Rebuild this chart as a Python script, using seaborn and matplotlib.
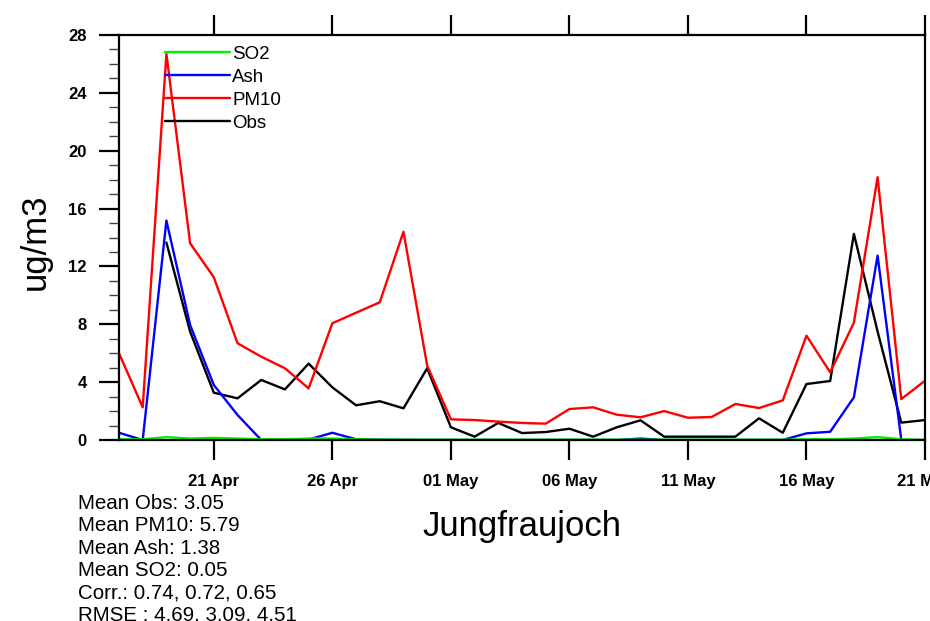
import numpy as np
import pandas as pd
import matplotlib
matplotlib.use("Agg")
import matplotlib.pyplot as plt
import matplotlib.dates as mdates
from matplotlib.ticker import MultipleLocator
from matplotlib.lines import Line2D
import seaborn as sns

# Daily series, 17 Apr - 21 May 2010
dates = pd.date_range("2010-04-17", "2010-05-21", freq="D")
nan = np.nan
obs = [nan, nan, 13.65, 7.49, 3.27, 2.88, 4.15, 3.50, 5.28, 3.64, 2.40, 2.68,
       2.19, 4.96, 0.88, 0.23, 1.18, 0.48, 0.55, 0.78, 0.23, 0.88, 1.36, 0.23,
       0.23, 0.23, 0.23, 1.50, 0.50, 3.87, 4.08, 14.25, 7.50, 1.20, 1.38]
pm10 = [6.00, 2.26, 26.70, 13.60, 11.25, 6.69, 5.76, 4.96, 3.57, 8.07, 8.80,
        9.52, 14.40, 5.14, 1.43, 1.38, 1.27, 1.18, 1.13, 2.14, 2.26, 1.75, 1.57,
        2.00, 1.54, 1.59, 2.49, 2.21, 2.74, 7.21, 4.68, 8.11, 18.17, 2.83, 4.10]
ash = [0.50, 0.00, 15.17, 7.95, 3.80, 1.73, 0.00, 0.03, 0.03, 0.50, 0.05, 0.02,
       0.01, 0.00, 0.00, 0.00, 0.00, 0.00, 0.00, 0.00, 0.00, 0.00, 0.10, 0.00,
       0.00, 0.00, 0.00, 0.00, 0.00, 0.46, 0.57, 2.95, 12.75, 0.00, 0.00]
so2 = [0.05, 0.05, 0.20, 0.10, 0.15, 0.10, 0.05, 0.05, 0.10, 0.10, 0.05, 0.03,
       0.02, 0.02, 0.02, 0.02, 0.02, 0.02, 0.02, 0.02, 0.02, 0.02, 0.02, 0.02,
       0.02, 0.02, 0.02, 0.02, 0.02, 0.05, 0.05, 0.10, 0.20, 0.05, 0.00]

series_names = ["Obs", "PM10", "Ash", "SO2"]
legend_order = ["SO2", "Ash", "PM10", "Obs"]
colors = {"Obs": "black", "PM10": "#ff0000", "Ash": "#0000ff", "SO2": "#00ee00"}

station = "Jungfraujoch"
stats_lines = ["Mean Obs: 3.05", "Mean PM10: 5.79", "Mean Ash: 1.38",
               "Mean SO2: 0.05", "Corr.: 0.74, 0.72, 0.65",
               "RMSE : 4.69, 3.09, 4.51"]

df = pd.concat([
    pd.DataFrame({"date": dates, "value": vals, "series": name})
    for name, vals in zip(series_names, [obs, pm10, ash, so2])
]).dropna()

sns.set_style("ticks")
plt.rcParams["font.family"] = ["Liberation Sans", "DejaVu Sans"]
plt.rcParams["text.color"] = "black"
plt.rcParams["axes.labelcolor"] = "black"
plt.rcParams["xtick.color"] = "black"
plt.rcParams["ytick.color"] = "black"

W, H = 930, 621
fig = plt.figure(figsize=(W / 100, H / 100), dpi=100)
ax = fig.add_axes([119 / W, 1 - 440 / H, (925 - 119) / W, (440 - 35) / H])

sns.lineplot(data=df, x="date", y="value", hue="series", hue_order=series_names,
             palette=colors, linewidth=1.7, estimator=None, legend=False, ax=ax)

ax.set_xlim(dates[0], dates[-1])
ax.set_ylim(0, 28)
ax.yaxis.set_major_locator(MultipleLocator(4))
ax.yaxis.set_minor_locator(MultipleLocator(1))
ax.xaxis.set_major_locator(mdates.DayLocator(bymonthday=[1, 6, 11, 16, 21, 26]))
ax.xaxis.set_major_formatter(mdates.DateFormatter("%d %b"))
ax.xaxis.set_minor_locator(matplotlib.ticker.NullLocator())

for s in ax.spines.values():
    s.set_visible(True)
    s.set_linewidth(1.6)
    s.set_color("black")

ax.tick_params(axis="x", which="major", direction="out", length=14.4, width=1.6,
               top=True, bottom=True, labelsize=12, pad=10, colors="black")
ax.tick_params(axis="y", which="major", direction="out", length=14.4, width=1.6,
               left=True, right=False, labelsize=12, pad=9, colors="black")
ax.tick_params(axis="y", which="minor", direction="out", length=7.2, width=1.0,
               left=True, right=False, color="#444444")
for lbl in ax.get_xticklabels() + ax.get_yticklabels():
    lbl.set_fontweight("bold")

ax.set_xlabel("")
ax.set_ylabel("")

handles = [Line2D([0], [0], color=colors[n], linewidth=1.7) for n in legend_order]
ax.legend(handles, legend_order, loc="upper left", bbox_to_anchor=(0.057, 0.973),
          frameon=False, fontsize=13.5, handlelength=3.46, handletextpad=0.12,
          labelspacing=0.31, borderpad=0, borderaxespad=0,
          labelcolor="black")

fig.text(35 / W, 1 - 242 / H, "ug/m3", rotation=90, ha="center", va="center",
         fontsize=25, color="black")
fig.text(522 / W, 1 - 536 / H, station, ha="center", va="baseline", fontsize=25,
         color="black")

for i, line in enumerate(stats_lines):
    fig.text(78 / W, 1 - (509 + 22.3 * i) / H, line, ha="left", va="baseline",
             fontsize=14.8, color="black")

fig.savefig("out.png", dpi=100, facecolor="white")
